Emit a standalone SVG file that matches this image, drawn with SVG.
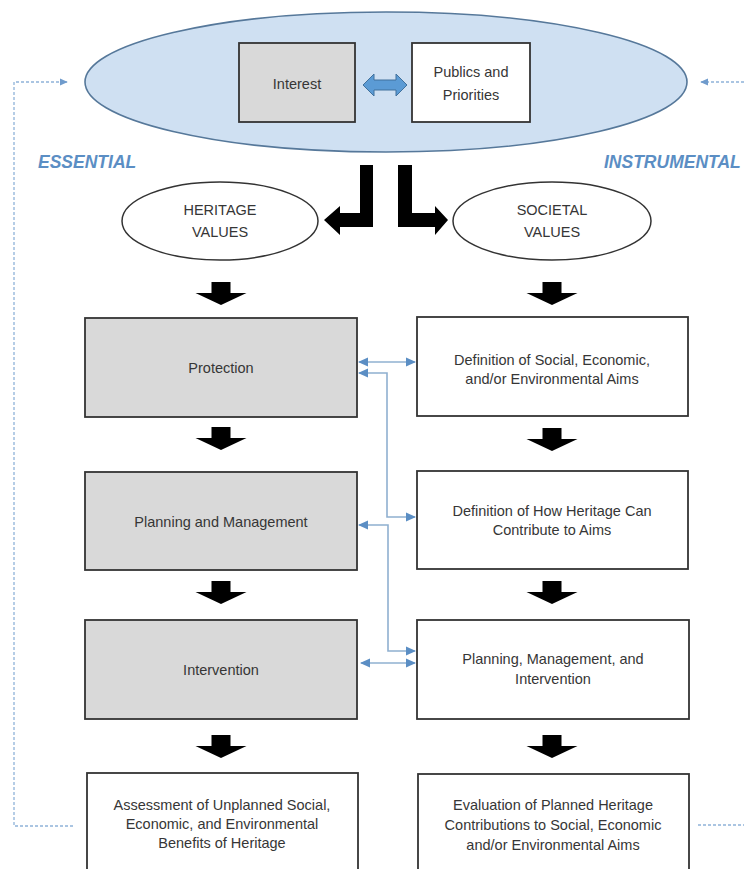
<svg xmlns="http://www.w3.org/2000/svg" width="744" height="869" viewBox="0 0 744 869">
<defs>
<style>
.t{font-family:"Liberation Sans",Arial,sans-serif;font-size:14.5px;fill:#363636;text-anchor:middle;dominant-baseline:central}
.g{fill:#d9d9d9;stroke:#333;stroke-width:1.8}
.w{fill:#fff;stroke:#333;stroke-width:1.8}
.lbl{font-family:"Liberation Sans",Arial,sans-serif;font-size:17.5px;font-weight:bold;font-style:italic;fill:#5b8ec4}
.c{fill:none;stroke:#8fb0d0;stroke-width:1.6}
.d{fill:none;stroke:#8fb3d9;stroke-width:1.3;stroke-dasharray:3 2}
.blk{fill:#000}
</style>
<marker id="ah" viewBox="0 0 10 10" refX="9" refY="5" markerWidth="10" markerHeight="10" markerUnits="userSpaceOnUse" orient="auto-start-reverse">
<path d="M0,0.5 L10,5 L0,9.5 z" fill="#5b8ec4"/>
</marker>
<marker id="dh" viewBox="0 0 10 10" refX="9" refY="5" markerWidth="8" markerHeight="8" markerUnits="userSpaceOnUse" orient="auto">
<path d="M0,0.5 L10,5 L0,9.5 z" fill="#6f9bcc"/>
</marker>
<path id="down" d="M-9.5,0 h19 v11 h16 l-25.5,12 l-25.5,-12 h16 z"/>
</defs>

<g id="top-ellipse">
<ellipse cx="386" cy="82" rx="301" ry="70" fill="#cfe0f2" stroke="#56789a" stroke-width="1.6"/>
</g>
<g id="interest">
<rect x="239" y="43" width="116" height="79" class="g"/>
<text x="297" y="84" class="t">Interest</text>
</g>
<g id="publics">
<rect x="412" y="43" width="118" height="79" class="w"/>
<text x="471" y="72" class="t">Publics and</text>
<text x="471" y="95" class="t">Priorities</text>
</g>
<g id="essential"><text x="38" y="168" class="lbl">ESSENTIAL</text></g>
<g id="instrumental"><text x="604" y="168" class="lbl">INSTRUMENTAL</text></g>

<g id="heritage-values">
<ellipse cx="220" cy="221" rx="98" ry="39" fill="#fff" stroke="#333" stroke-width="1.5"/>
<text x="220" y="210" class="t">HERITAGE</text>
<text x="220" y="232" class="t">VALUES</text>
</g>
<g id="societal-values">
<ellipse cx="552" cy="221" rx="99" ry="39" fill="#fff" stroke="#333" stroke-width="1.5"/>
<text x="552" y="210" class="t">SOCIETAL</text>
<text x="552" y="232" class="t">VALUES</text>
</g>

<g id="protection">
<rect x="85" y="318" width="272" height="99" class="g"/>
<text x="221" y="368" class="t">Protection</text>
</g>
<g id="planning-management">
<rect x="85" y="472" width="272" height="98" class="g"/>
<text x="221" y="522" class="t">Planning and Management</text>
</g>
<g id="intervention">
<rect x="85" y="620" width="272" height="99" class="g"/>
<text x="221" y="670" class="t">Intervention</text>
</g>
<g id="assessment">
<rect x="87" y="773" width="271" height="110" class="w"/>
<text x="222" y="805" class="t">Assessment of Unplanned Social,</text>
<text x="222" y="824" class="t">Economic, and Environmental</text>
<text x="222" y="843" class="t">Benefits of Heritage</text>
</g>

<g id="def-social">
<rect x="417" y="317" width="271" height="99" class="w"/>
<text x="552" y="360" class="t">Definition of Social, Economic,</text>
<text x="552" y="379" class="t">and/or Environmental Aims</text>
</g>
<g id="def-how">
<rect x="417" y="471" width="271" height="98" class="w"/>
<text x="552" y="511" class="t">Definition of How Heritage Can</text>
<text x="552" y="530" class="t">Contribute to Aims</text>
</g>
<g id="pmi">
<rect x="417" y="620" width="272" height="99" class="w"/>
<text x="553" y="659" class="t">Planning, Management, and</text>
<text x="553" y="679" class="t">Intervention</text>
</g>
<g id="evaluation">
<rect x="418" y="774" width="271" height="110" class="w"/>
<text x="553" y="805" class="t">Evaluation of Planned Heritage</text>
<text x="553" y="825" class="t">Contributions to Social, Economic</text>
<text x="553" y="845" class="t">and/or Environmental Aims</text>
</g>

<g id="connectors">
<path d="M363,85 l11,-11 v6 h22 v-6 l11,11 l-11,11 v-6 h-22 v6 z" fill="#5b9bd5" stroke="#41719c" stroke-width="1"/>
<path class="blk" d="M360,165 h13 v62 h-33 v8 l-16,-15 l16,-14 v7 h20 z"/>
<path class="blk" d="M398,165 h14 v48 h23 v-7 l13,14 l-13,15 v-8 h-37 z"/>
<use href="#down" x="221" y="282" class="blk"/>
<use href="#down" x="552" y="282" class="blk"/>
<use href="#down" x="221" y="427" class="blk"/>
<use href="#down" x="552" y="428" class="blk"/>
<use href="#down" x="221" y="581" class="blk"/>
<use href="#down" x="552" y="581" class="blk"/>
<use href="#down" x="221" y="735" class="blk"/>
<use href="#down" x="552" y="735" class="blk"/>
<path class="c" d="M359,362 H415" marker-start="url(#ah)" marker-end="url(#ah)"/>
<path class="c" d="M359,373 H387 V517 H415" marker-start="url(#ah)" marker-end="url(#ah)"/>
<path class="c" d="M359,525 H388 V651 H415" marker-start="url(#ah)" marker-end="url(#ah)"/>
<path class="c" d="M361,663 H415" marker-start="url(#ah)" marker-end="url(#ah)"/>
<path class="d" d="M73,826 H14 V82 H67" marker-end="url(#dh)"/>
<path class="d" d="M744,82 H701" marker-end="url(#dh)"/>
<path class="d" d="M698,825 H744"/>
</g>
</svg>
